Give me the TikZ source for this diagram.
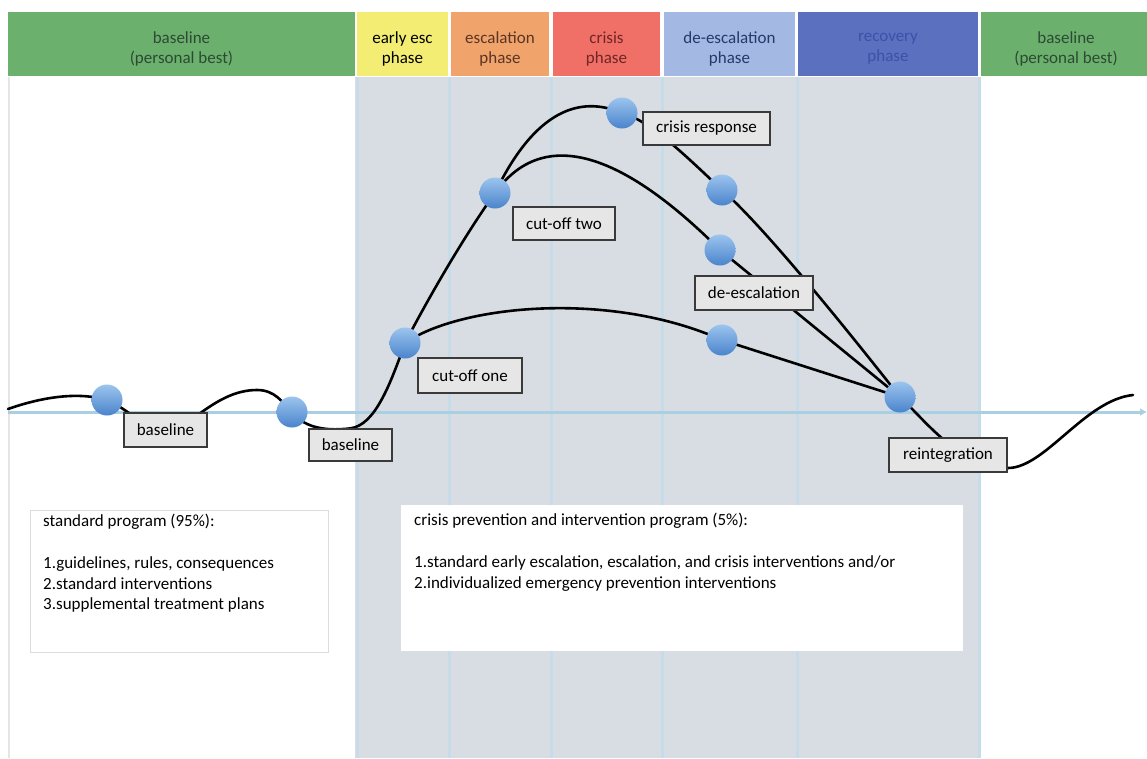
\documentclass[tikz,border=0pt]{standalone}
\usepackage{fontspec}
\setmainfont{Carlito}
\usetikzlibrary{arrows.meta}

\definecolor{hgreen}{HTML}{6CB06E}
\definecolor{hyellow}{HTML}{F3EE73}
\definecolor{horange}{HTML}{F0A46C}
\definecolor{hred}{HTML}{F07068}
\definecolor{hlblue}{HTML}{A3B8E2}
\definecolor{hdblue}{HTML}{5C70C0}
\definecolor{tgreen}{HTML}{2C4A33}
\definecolor{torange}{HTML}{5A3424}
\definecolor{tred}{HTML}{6E2626}
\definecolor{tlblue}{HTML}{27386A}
\definecolor{tdblue}{HTML}{3A53A6}
\definecolor{zone}{HTML}{D7DDE3}
\definecolor{divider}{HTML}{C6DCE8}
\definecolor{axisblue}{HTML}{A9CFE3}
\definecolor{boxfill}{HTML}{E6E6E6}
\definecolor{boxline}{HTML}{3A3A3A}
\definecolor{panelline}{HTML}{DCDCDC}
\definecolor{dotlight}{HTML}{9CC4EE}
\definecolor{dotdark}{HTML}{4A84CC}

\pgfdeclarelayer{bg}
\pgfdeclarelayer{curves}
\pgfsetlayers{bg,curves,main}

\begin{document}
\begin{tikzpicture}[x=1pt,y=-1pt,
  hdrtext/.style={align=center,inner sep=0pt,font=\fontsize{17}{20}\selectfont},
  lbl/.style={draw=boxline,fill=boxfill,line width=1.3pt,inner sep=0pt,
    font=\fontsize{17}{18}\selectfont,text=black},
  dot/.style={circle,minimum size=31pt,inner sep=0pt,top color=dotlight,
    bottom color=dotdark,draw=none},
  wave/.style={line width=2.6pt,black,line cap=round},
  panel/.style={fill=white,draw=panelline,line width=1pt},
  paneltext/.style={anchor=north west,align=left,inner sep=0pt,
    font=\fontsize{17}{20.8}\selectfont,text=black},
  divline/.style={divider,line width=3pt}
]
\useasboundingbox (0,0) rectangle (1147,758);

\begin{pgfonlayer}{bg}
\fill[white] (0,0) rectangle (1147,758);
% shaded intervention zone and its column dividers
\fill[zone] (355,77) rectangle (980,758);
\foreach \xx in {357,449,551,662,797,979}
  \draw[divline] (\xx,77) -- (\xx,758);
\draw[line width=2pt,black!10] (9,77) -- (9,758);

% phase header
\fill[hgreen]  (8,12)   rectangle (355,76);
\fill[hyellow] (357,12) rectangle (448,76);
\fill[horange] (451,12) rectangle (549,76);
\fill[hred]    (553,12) rectangle (660,76);
\fill[hlblue]  (664,12) rectangle (795,76);
\fill[hdblue]  (798,12) rectangle (978,76);
\fill[hgreen]  (981,12) rectangle (1147,76);
\node[hdrtext,text=tgreen]  (h1) at (181.5,49) {baseline\\(personal best)};
\node[hdrtext,text=black]   (h2) at (402.5,49) {early esc\\phase};
\node[hdrtext,text=torange] (h3) at (500,49)   {escalation\\phase};
\node[hdrtext,text=tred]    (h4) at (606.5,49) {crisis\\phase};
\node[hdrtext,text=tlblue]  (h5) at (729.5,49) {de-escalation\\phase};
\node[hdrtext,text=tdblue]  (h6) at (888,49)   {recovery\\phase};
\node[hdrtext,text=tgreen]  (h7) at (1066,49)  {baseline\\(personal best)};

% baseline axis
\coordinate (ax0) at (8,412);
\coordinate (ax1) at (1147,412);
\draw[axisblue,line width=3pt,-{Latex[length=7pt,width=8pt]}] (ax0) -- (ax1);

% program panels
\draw[panel] (30,510) rectangle (328,652);
\node[paneltext] (p1) at (43,514) {standard program (95\%):\\[20.8pt]
  1.guidelines, rules, consequences\\
  2.standard interventions\\
  3.supplemental treatment plans};
\draw[panel,draw=white] (401,505) rectangle (962,650);
\node[paneltext] (p2) at (414,513) {crisis prevention and intervention program (5\%):\\[20.8pt]
  1.standard early escalation, escalation, and crisis interventions and/or\\
  2.individualized emergency prevention interventions};
\end{pgfonlayer}

% label boxes
\node[lbl,minimum width=83pt,minimum height=34pt]  (b1)  at (165.5,430) {baseline};
\node[lbl,minimum width=83pt,minimum height=32pt]  (b2)  at (350.5,445) {baseline};
\node[lbl,minimum width=104pt,minimum height=35pt] (co1) at (470,375.5) {cut-off one};
\node[lbl,minimum width=102pt,minimum height=33pt] (co2) at (564,223.5) {cut-off two};
\node[lbl,minimum width=127pt,minimum height=33pt] (crb) at (706.5,128.5) {crisis response};
\node[lbl,minimum width=118pt,minimum height=34pt] (deb) at (754,293) {de-escalation};
\node[lbl,minimum width=118pt,minimum height=34pt] (rib) at (948,455) {reintegration};

% checkpoints
\node[dot] (d1) at (107,400) {};
\node[dot] (d2) at (292,412) {};
\node[dot] (c1) at (405,343) {};
\node[dot] (c2) at (495,193) {};
\node[dot] (cr) at (622,113) {};
\node[dot] (d3) at (722,190) {};
\node[dot] (d4) at (720,250) {};
\node[dot] (d5) at (722,340) {};
\node[dot] (ri) at (900,397) {};

\coordinate (w0) at (8,409);
\coordinate (pk1) at (257,390);
\coordinate (rx) at (1008,468);
\coordinate (w9) at (1133,395);

% behaviour curves, beneath the boxes and checkpoints
\begin{pgfonlayer}{curves}
\draw[wave] (w0) .. controls (45,396) and (80,392) .. (d1.center)
  .. controls (130,410) and (145,430) .. (b1.center)
  .. controls (190,430) and (215,390) .. (pk1)
  .. controls (275,390) and (282,402) .. (d2.center)
  .. controls (302,425) and (320,432) .. (b2.north)
  .. controls (375,425) and (390,385) .. (c1.center)
  .. controls (430,295) and (465,235) .. (c2.center)
  .. controls (535,110) and (580,95) .. (cr.center)
  .. controls (650,120) and (690,160) .. (d3.center)
  .. controls (767,229) and (863,350) .. (ri.center);
\draw[wave] (c2.center) .. controls (540,130) and (615,145) .. (d4.center)
  -- (ri.center);
\draw[wave] (c1.center) .. controls (460,305) and (610,290) .. (d5.center)
  -- (ri.center);
\draw[wave] (ri.center) .. controls (925,420) and (960,468) .. (rx)
  .. controls (1045,468) and (1085,400) .. (w9);
\end{pgfonlayer}
\end{tikzpicture}
\end{document}
